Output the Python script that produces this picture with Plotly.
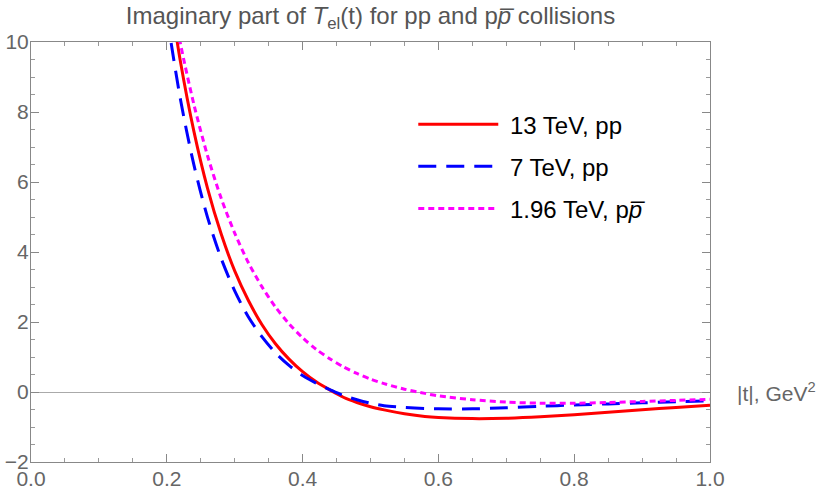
import plotly.graph_objects as go

# |t| grid (GeV^2)
t_vals = [0.20, 0.22, 0.24, 0.26, 0.28, 0.30, 0.32, 0.34, 0.36, 0.38, 0.40,
          0.42, 0.44, 0.46, 0.48, 0.50, 0.52, 0.55, 0.58, 0.60, 0.65, 0.70,
          0.75, 0.80, 0.85, 0.90, 0.95, 1.00]

im_13tev = [11.95, 9.45, 7.44, 5.82, 4.52, 3.46, 2.62, 1.93, 1.38, 0.94, 0.58,
            0.29, 0.06, -0.15, -0.30, -0.42, -0.51, -0.62, -0.70, -0.73, -0.76, -0.75,
            -0.71, -0.65, -0.58, -0.51, -0.44, -0.38]

im_7tev = [10.76, 8.37, 6.48, 4.99, 3.82, 2.89, 2.15, 1.58, 1.12, 0.76, 0.47,
           0.25, 0.07, -0.10, -0.22, -0.32, -0.39, -0.44, -0.47, -0.48, -0.48, -0.45,
           -0.41, -0.37, -0.34, -0.31, -0.28, -0.25]

im_196tev = [12.07, 9.96, 8.21, 6.75, 5.54, 4.54, 3.70, 3.01, 2.43, 1.95, 1.55,
             1.22, 0.95, 0.72, 0.53, 0.37, 0.24, 0.08, -0.04, -0.11, -0.22, -0.29,
             -0.32, -0.32, -0.30, -0.27, -0.24, -0.21]

series_names = ["13 TeV, pp", "7 TeV, pp", "1.96 TeV, p<i>p\u0305</i>"]
series_values = [im_13tev, im_7tev, im_196tev]
series_colors = ["#FF0000", "#0000FF", "#FF00FF"]
series_dash = ["solid", "18px,10px", "6px,4px"]

x_ticks = [0.0, 0.2, 0.4, 0.6, 0.8, 1.0]
y_ticks = [-2, 0, 2, 4, 6, 8, 10]

FONT = "Liberation Sans, Arial, sans-serif"
PAD = "\u00a0"

fig = go.Figure()
for i, (name, vals, col, dash) in enumerate(zip(series_names, series_values, series_colors, series_dash)):
    fig.add_trace(go.Scatter(
        x=t_vals, y=vals, mode="lines", name=PAD + name,
        legendgroup=f"g{i}",
        line=dict(color=col, width=3, dash=dash, shape="spline", smoothing=0.8),
    ))

axis_common = dict(
    showline=True, linecolor="#888888", linewidth=1, mirror="allticks",
    ticks="inside", ticklen=8, tickcolor="#888888", tickwidth=1,
    showgrid=False, automargin=False,
    tickfont=dict(family=FONT, size=21, color="#666666"),
)

fig.update_xaxes(
    range=[0, 1], tickvals=x_ticks, tickformat=".1f", zeroline=False,
    ticklabelstandoff=-2,
    minor=dict(dtick=0.05, ticks="inside", ticklen=4, tickcolor="#999999", showgrid=False),
    **axis_common,
)
fig.update_yaxes(
    range=[-2, 10], tickvals=y_ticks, zeroline=True, zerolinecolor="#aaaaaa", zerolinewidth=1,
    ticklabelstandoff=-3,
    minor=dict(dtick=0.5, ticks="inside", ticklen=4, tickcolor="#999999", showgrid=False),
    **axis_common,
)

fig.add_annotation(
    text="|t|, GeV<sup>2</sup>", xref="paper", x=1, xanchor="left", xshift=25,
    yref="y", y=0, yanchor="middle", showarrow=False,
    font=dict(family=FONT, size=21, color="#666666"),
)

fig.update_layout(
    width=823, height=498,
    margin=dict(l=31, r=113, t=42, b=36, autoexpand=False),
    paper_bgcolor="white", plot_bgcolor="white",
    title=dict(
        text="Imaginary part of <i>T</i><sub>el</sub>(t) for pp and p<i>p\u0305</i> collisions",
        xref="paper", x=0.5, xanchor="center",
        yref="container", y=1 - 16 / 498, yanchor="middle",
        font=dict(family=FONT, size=24, color="#555555"),
    ),
    legend=dict(
        x=0.563, y=0.857, xanchor="left", yanchor="top",
        bgcolor="rgba(0,0,0,0)", itemwidth=80, tracegroupgap=8,
        font=dict(family=FONT, size=24, color="#000000"),
    ),
    showlegend=True,
)

fig.write_html("out.html")
